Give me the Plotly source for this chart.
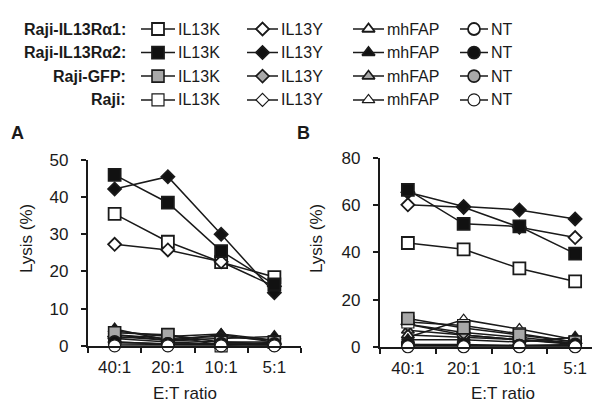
import plotly.graph_objects as go

# ---------------- data ----------------
RATIOS = ["40:1", "20:1", "10:1", "5:1"]
CARS = ["IL13K", "IL13Y", "mhFAP", "NT"]
TARGETS = ["Raji-IL13Rα1:", "Raji-IL13Rα2:", "Raji-GFP:", "Raji:"]

# Panel A lysis (%) per target, rows in CARS order
A_RA1 = [[35.5, 28.0, 22.5, 18.5], [27.3, 25.8, 22.6, 16.0], [3.0, 2.0, 2.5, 1.5], [1.0, 0.5, 0.5, 0.3]]
A_RA2 = [[46.0, 38.5, 25.5, 16.5], [42.2, 45.5, 30.0, 14.3], [4.5, 1.5, 2.0, 2.5], [1.0, 0.5, 0.5, 0.5]]
A_GFP = [[3.5, 3.0, 1.0, 1.0], [2.5, 1.5, 1.0, 0.5], [3.0, 1.5, 3.0, 1.0], [0.5, 0.3, 0.3, 0.2]]
A_RAJI = [[2.0, 3.0, 0.0, 1.0], [2.0, 1.0, 0.5, 0.5], [4.0, 2.5, 3.2, 1.5], [0.0, 0.0, 0.0, 0.0]]

# Panel B lysis (%)
B_RA1 = [[44.0, 41.3, 33.2, 27.7], [60.2, 59.1, 50.7, 46.3], [5.0, 4.0, 3.0, 1.5], [1.0, 0.5, 0.5, 0.5]]
B_RA2 = [[66.5, 52.1, 51.0, 39.5], [65.5, 59.5, 58.0, 54.2], [3.0, 3.0, 2.0, 4.0], [1.0, 1.0, 0.5, 1.0]]
B_GFP = [[12.0, 8.0, 5.0, 2.0], [9.5, 6.0, 4.0, 1.5], [7.0, 5.0, 3.0, 1.0], [0.5, 0.5, 0.3, 0.3]]
B_RAJI = [[10.5, 9.0, 5.5, 2.0], [9.5, 5.0, 3.0, 1.5], [4.0, 11.5, 7.5, 3.0], [0.0, 0.0, 0.0, 0.0]]

A_YTICKS = [0, 10, 20, 30, 40, 50]
B_YTICKS = [0, 20, 40, 60, 80]

# ---------------- styles ----------------
FONT = "Arial, Liberation Sans, sans-serif"
INK = "#1a1a1a"
NBSP = "\u00a0"
SYMBOLS = {"IL13K": ("square", 12), "IL13Y": ("diamond", 10), "mhFAP": ("triangle-up", 11), "NT": ("circle", 12)}
FILLS = {"Raji-IL13Rα1:": "white", "Raji-IL13Rα2:": "#111111", "Raji-GFP:": "#a8a8a8", "Raji:": "white"}
LW = {"Raji-IL13Rα1:": 1.8, "Raji-IL13Rα2:": 1.8, "Raji-GFP:": 1.6, "Raji:": 1.2}

fig = go.Figure()


def add_series(values, target, car, xa, ya):
    sym, sz = SYMBOLS[car]
    fig.add_trace(go.Scatter(
        x=RATIOS, y=values, mode="lines+markers", xaxis=xa, yaxis=ya,
        line=dict(color=INK, width=1.5),
        marker=dict(symbol=sym, size=sz, color=FILLS[target],
                    line=dict(color=INK, width=LW[target])),
        cliponaxis=False, showlegend=False, hoverinfo="skip"))


def add_panel(ra1, ra2, gfp, raji, xa, ya):
    groups = {"Raji-IL13Rα1:": ra1, "Raji-IL13Rα2:": ra2, "Raji-GFP:": gfp, "Raji:": raji}
    order = [("Raji:", "mhFAP"), ("Raji-GFP:", "mhFAP"), ("Raji-IL13Rα1:", "mhFAP"), ("Raji-IL13Rα2:", "mhFAP"),
             ("Raji:", "IL13Y"), ("Raji-GFP:", "IL13Y"), ("Raji:", "IL13K"), ("Raji-GFP:", "IL13K"),
             ("Raji-GFP:", "NT"), ("Raji-IL13Rα1:", "NT"), ("Raji-IL13Rα2:", "NT"), ("Raji:", "NT"),
             ("Raji-IL13Rα1:", "IL13K"), ("Raji-IL13Rα1:", "IL13Y"),
             ("Raji-IL13Rα2:", "IL13Y"), ("Raji-IL13Rα2:", "IL13K")]
    for tgt, car in order:
        add_series(groups[tgt][CARS.index(car)], tgt, car, xa, ya)


add_panel(A_RA1, A_RA2, A_GFP, A_RAJI, "x", "y")
add_panel(B_RA1, B_RA2, B_GFP, B_RAJI, "x2", "y2")

# ---------------- legend (drawn manually) ----------------
ROW_Y = [12.6, 37.3, 62.0, 87.0]
COL_LINE = [(133, 167), (239, 270), (345, 376), (452, 480)]
for r, tgt in enumerate(TARGETS):
    for c, car in enumerate(CARS):
        x0, x1 = COL_LINE[c]
        fig.add_trace(go.Scatter(x=[x0, x1], y=[ROW_Y[r], ROW_Y[r]], mode="lines",
                                 xaxis="x3", yaxis="y3", line=dict(color=INK, width=1.5),
                                 showlegend=False, hoverinfo="skip"))
        sym, sz = SYMBOLS[car]
        fig.add_trace(go.Scatter(x=[(x0 + x1) / 2], y=[ROW_Y[r]], mode="markers",
                                 xaxis="x3", yaxis="y3",
                                 marker=dict(symbol=sym, size=sz, color=FILLS[tgt],
                                             line=dict(color=INK, width=LW[tgt])),
                                 showlegend=False, hoverinfo="skip"))
        fig.add_annotation(x=x1 + 1, y=ROW_Y[r], xref="x3", yref="y3", text=car,
                           showarrow=False, xanchor="left", yanchor="middle",
                           font=dict(family=FONT, size=16, color=INK))
    fig.add_annotation(x=120, y=ROW_Y[r], xref="x3", yref="y3", text="<b>" + tgt + "</b>",
                       showarrow=False, xanchor="right", yanchor="middle",
                       font=dict(family=FONT, size=16, color=INK))

# ---------------- axes ----------------
W, H = 600, 405
axis_common = dict(showline=True, linecolor=INK, linewidth=1.5, ticks="outside", ticklen=5,
                   tickwidth=1.5, tickcolor=INK, showgrid=False, zeroline=False,
                   tickfont=dict(family=FONT, size=17, color=INK))

fig.update_layout(
    width=W, height=H, margin=dict(l=0, r=0, t=0, b=0),
    paper_bgcolor="white", plot_bgcolor="white",
    xaxis=dict(domain=[80 / W, 293 / W], type="category", range=[-0.5, 3.5],
               tickson="boundaries", anchor="y", ticklabelstandoff=5, **axis_common),
    yaxis=dict(domain=[1 - 345 / H, 1 - 150 / H], range=[0, 50], tickvals=A_YTICKS,
               ticktext=[f"{v}{NBSP}{NBSP}" for v in A_YTICKS], anchor="x", **axis_common),
    xaxis2=dict(domain=[372 / W, 595 / W], type="category", range=[-0.5, 3.5],
                tickson="boundaries", anchor="y2", ticklabelstandoff=5, **axis_common),
    yaxis2=dict(domain=[1 - 346 / H, 1 - 148 / H], range=[0, 80], tickvals=B_YTICKS,
                ticktext=[f"{v}{NBSP}{NBSP}" for v in B_YTICKS], anchor="x2", **axis_common),
    xaxis3=dict(domain=[0, 1], range=[0, W], visible=False, anchor="y3"),
    yaxis3=dict(domain=[1 - 100 / H, 1], range=[100, 0], visible=False, anchor="x3"),
)

# titles & panel labels
for x, y, txt in [(9, 122, "<b>A</b>"), (295, 122, "<b>B</b>")]:
    fig.add_annotation(x=x / W, y=1 - y / H, xref="paper", yref="paper", text=txt, showarrow=False,
                       xanchor="center", yanchor="middle",
                       font=dict(family=FONT, size=18, color=INK))
for x in [18, 308]:
    fig.add_annotation(x=x / W, y=1 - 233 / H, xref="paper", yref="paper", text="Lysis (%)",
                       textangle=-90, showarrow=False, xanchor="center", yanchor="middle",
                       font=dict(family=FONT, size=17, color=INK))
for x in [177, 495]:
    fig.add_annotation(x=x / W, y=1 - 395 / H, xref="paper", yref="paper", text="E:T ratio",
                       showarrow=False, xanchor="center", yanchor="middle",
                       font=dict(family=FONT, size=17, color=INK))

fig.write_html("out.html")
